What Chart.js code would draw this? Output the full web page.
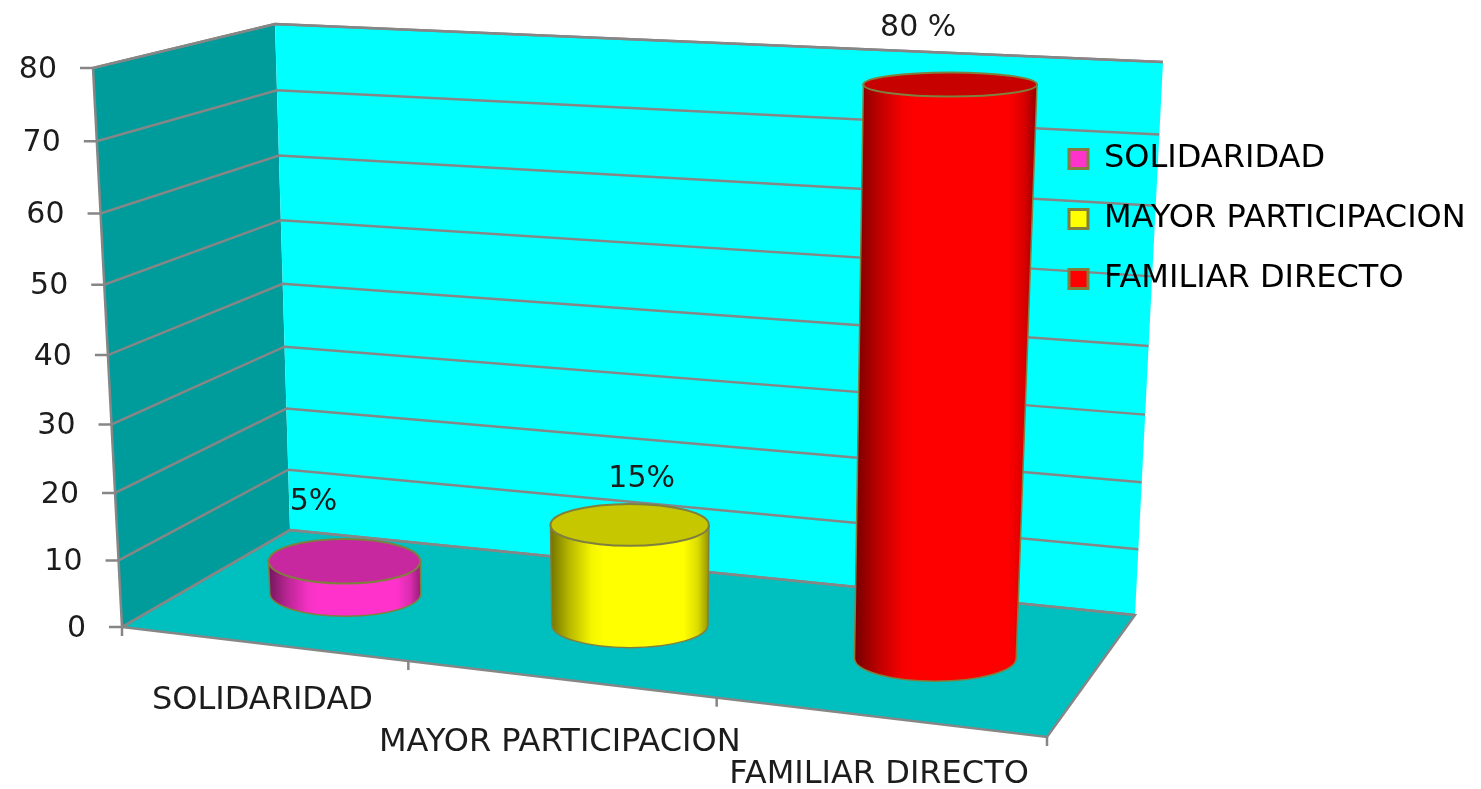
<!DOCTYPE html>
<html lang="es">
<head>
<meta charset="utf-8">
<title>Cilindros 3D</title>
<script src="https://cdn.jsdelivr.net/npm/chart.js@4"></script>
<style>
  html, body { margin: 0; background: #fff; }
  canvas { display: block; }
</style>
</head>
<body>
<canvas id="chart" width="1481" height="789"></canvas>
<script>
// data
const categories = ['SOLIDARIDAD', 'MAYOR PARTICIPACION', 'FAMILIAR DIRECTO'];
const values = [5, 15, 80];
const valueLabels = ['5%', '15%', '80 %'];
const barColors = ['#ff33cc', '#ffff00', '#ff0000'];

const FONT = '"DejaVu Sans", sans-serif';
const TEXT = '#1c1c1c';
const LINE = '#868686';
const EDGE = '#7f7f3f';

// box corners on screen: floor front/back, top front/back
const A = [122, 627], B = [1047, 737], C = [1135, 615], D = [290, 530];
const E = [93, 68], H = [1065, 124], G = [1163, 62], F = [275, 24];

const CYLINDER_SHIFT = 5;
const labelOffsets = [[-31, -59], [12, -46], [-32, -56]];
const categoryDrops = [57, 64, 58];

const mix = (p, q, t) => [p[0] + (q[0] - p[0]) * t, p[1] + (q[1] - p[1]) * t];
// slight foreshortening along the two axes, as in the original 3D view
const warpU = (u) => u - 0.107 * u * (1 - u);
const warpW = (w) => w - 0.054 * w * (1 - w);

// u along the categories, v into the depth, w up the value axis (all 0..1)
function project(u, v, w) {
  const uu = warpU(u);
  const floor = mix(mix(A, B, uu), mix(D, C, uu), v);
  const top = mix(mix(E, H, uu), mix(F, G, uu), v);
  return mix(floor, top, warpW(w));
}

const fracU = (chart, px) => (px - chart.chartArea.left) / chart.chartArea.width;
const fracW = (chart, px) => (chart.chartArea.bottom - px) / chart.chartArea.height;

function poly(ctx, pts, fill) {
  ctx.beginPath();
  pts.forEach((p, i) => (i ? ctx.lineTo(p[0], p[1]) : ctx.moveTo(p[0], p[1])));
  ctx.closePath();
  ctx.fillStyle = fill;
  ctx.fill();
}

function seg(ctx, pts) {
  ctx.beginPath();
  pts.forEach((p, i) => (i ? ctx.lineTo(p[0], p[1]) : ctx.moveTo(p[0], p[1])));
  ctx.stroke();
}

function drawCylinder(ctx, chart, el, color) {
  const u = fracU(chart, el.x);
  const w = fracW(chart, el.y);
  const base = project(u, 0.5, 0);
  const top = project(u, 0.5, w);
  base[0] += CYLINDER_SHIFT;
  top[0] += CYLINDER_SHIFT;
  const half = el.width / 2;
  const uu = warpU(u);
  const rxBase = half * (0.93 + 0.1 * uu);
  const rxTop = half * (0.93 + 0.1 * uu + 0.075 * w);
  const ryBase = 23;
  const ryTop = 23 - 11 * w;

  // side
  ctx.beginPath();
  ctx.moveTo(top[0] - rxTop, top[1]);
  ctx.lineTo(base[0] - rxBase, base[1]);
  ctx.ellipse(base[0], base[1], rxBase, ryBase, 0, Math.PI, 0, true);
  ctx.lineTo(top[0] + rxTop, top[1]);
  ctx.closePath();
  ctx.fillStyle = color;
  ctx.fill();
  const x0 = Math.min(base[0] - rxBase, top[0] - rxTop);
  const x1 = Math.max(base[0] + rxBase, top[0] + rxTop);
  const shade = ctx.createLinearGradient(x0, 0, x1, 0);
  shade.addColorStop(0, 'rgba(0,0,0,0.55)');
  shade.addColorStop(0.12, 'rgba(0,0,0,0.28)');
  shade.addColorStop(0.26, 'rgba(0,0,0,0.04)');
  shade.addColorStop(0.34, 'rgba(0,0,0,0)');
  shade.addColorStop(0.84, 'rgba(0,0,0,0)');
  shade.addColorStop(0.93, 'rgba(0,0,0,0.14)');
  shade.addColorStop(1, 'rgba(0,0,0,0.42)');
  ctx.fillStyle = shade;
  ctx.fill();
  ctx.strokeStyle = EDGE;
  ctx.lineWidth = 1.5;
  ctx.stroke();

  // lid
  ctx.beginPath();
  ctx.ellipse(top[0], top[1], rxTop, ryTop, 0, 0, Math.PI * 2);
  ctx.fillStyle = color;
  ctx.fill();
  ctx.fillStyle = 'rgba(0,0,0,0.22)';
  ctx.fill();
  ctx.strokeStyle = EDGE;
  ctx.lineWidth = 2;
  ctx.stroke();
}

const box3d = {
  id: 'box3d',
  afterLayout(chart) {
    // legend sits to the right of the box, over the back wall edge
    const legend = chart.legend;
    legend.left = 1041;
    legend.top = 115;
    legend.right = chart.width;
    legend.bottom = 330;
  },
  beforeDraw(chart) {
    const { ctx, scales: { x, y } } = chart;
    ctx.save();
    poly(ctx, [A, D, F, E], '#009c9c');
    poly(ctx, [D, C, G, F], '#00ffff');
    poly(ctx, [A, B, C, D], '#00bfbf');

    ctx.strokeStyle = LINE;
    ctx.lineWidth = 2.5;
    seg(ctx, [A, E, F, G]);
    seg(ctx, [A, D, C, B, A]);

    // gridlines and value ticks from the y scale
    ctx.font = '30px ' + FONT;
    ctx.textAlign = 'right';
    ctx.textBaseline = 'middle';
    y.ticks.forEach((t) => {
      const w = fracW(chart, y.getPixelForValue(t.value));
      const p = project(0, 0, w);
      ctx.strokeStyle = LINE;
      seg(ctx, [[p[0] - 13, p[1]], p, project(0, 1, w), project(1, 1, w)]);
      ctx.fillStyle = TEXT;
      ctx.fillText(String(t.value), p[0] - 36, p[1] + 2);
    });

    // category ticks and labels from the x scale
    const n = categories.length;
    for (let i = 0; i <= n; i++) {
      const p = project(i / n, 0, 0);
      ctx.strokeStyle = LINE;
      seg(ctx, [p, [p[0], p[1] + 9]]);
    }
    ctx.font = '32px ' + FONT;
    ctx.textAlign = 'center';
    ctx.fillStyle = TEXT;
    x.getLabels().forEach((label, i) => {
      const p = project(fracU(chart, x.getPixelForValue(i)), 0, 0);
      ctx.fillText(label, p[0], p[1] + categoryDrops[i]);
    });
    ctx.restore();
  },
  beforeDatasetDraw(chart, args) {
    const { ctx } = chart;
    ctx.save();
    args.meta.data.forEach((el, i) => drawCylinder(ctx, chart, el, barColors[i]));
    ctx.restore();
    return false;
  },
  afterDatasetsDraw(chart) {
    const { ctx } = chart;
    ctx.save();
    ctx.font = '30px ' + FONT;
    ctx.textAlign = 'center';
    ctx.textBaseline = 'middle';
    ctx.fillStyle = TEXT;
    chart.getDatasetMeta(0).data.forEach((el, i) => {
      const top = project(fracU(chart, el.x), 0.5, fracW(chart, el.y));
      ctx.fillText(valueLabels[i], top[0] + CYLINDER_SHIFT + labelOffsets[i][0], top[1] + labelOffsets[i][1]);
    });
    ctx.restore();
  },
};

new Chart(document.getElementById('chart'), {
  type: 'bar',
  data: {
    labels: categories,
    datasets: [{
      data: values,
      backgroundColor: barColors,
      categoryPercentage: 0.46,
      barPercentage: 1,
    }],
  },
  plugins: [box3d],
  options: {
    responsive: false,
    animation: false,
    // chart area = front face of the box, so the scales carry the values
    layout: { padding: { left: 93, top: 68, right: 346, bottom: 162 } },
    scales: {
      x: { display: false },
      y: { display: false, min: 0, max: 80, ticks: { stepSize: 10 } },
    },
    plugins: {
      tooltip: { enabled: false },
      legend: {
        position: 'chartArea',
        align: 'start',
        labels: {
          color: TEXT,
          font: { family: FONT, size: 32 },
          boxWidth: 19,
          boxHeight: 19,
          padding: 28,
          generateLabels: () => categories.map((c, i) => ({
            text: c,
            fillStyle: barColors[i],
            strokeStyle: EDGE,
            lineWidth: 3,
            hidden: false,
            index: i,
          })),
        },
      },
    },
  },
});
</script>
</body>
</html>
